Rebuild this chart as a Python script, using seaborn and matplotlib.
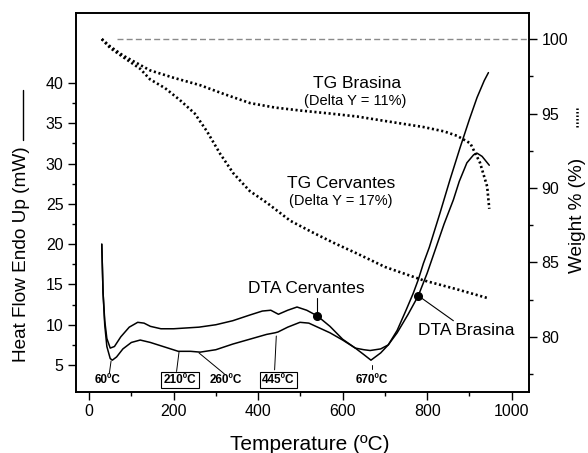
import numpy as np
import pandas as pd
import matplotlib
matplotlib.use("Agg")
import matplotlib.pyplot as plt
from matplotlib.lines import Line2D
import seaborn as sns

# ---------------- data ----------------
dta_cerv_x = [30, 33, 37, 42, 50, 60, 75, 95, 115, 130, 145, 170, 200, 230, 260, 300, 340,
              380, 410, 430, 448, 470, 492, 515, 540, 570, 600, 630, 650, 667, 690, 708, 729,
              750, 767, 779, 791, 805, 830, 854, 878, 900, 918, 935, 945]
dta_cerv_y = [20.0, 14.0, 10.5, 8.3, 7.1, 7.3, 8.5, 9.7, 10.3, 10.2, 9.8, 9.5, 9.5, 9.6, 9.7, 10.0, 10.5,
              11.2, 11.7, 11.8, 11.3, 11.8, 12.2, 11.8, 11.1, 9.8, 8.2, 7.1, 6.3, 5.6, 6.5, 7.5, 9.3,
              11.8, 13.9, 15.6, 17.6, 19.6, 23.8, 28.0, 32.0, 35.5, 38.2, 40.3, 41.3]

dta_bras_x = [30, 33, 37, 42, 50, 55, 65, 80, 100, 121, 145, 175, 211, 240, 263, 300, 340, 380,
              420, 440, 447, 470, 499, 520, 545, 570, 600, 630, 650, 665, 690, 708, 729, 755,
              779, 800, 821, 840, 862, 876, 894, 910, 918, 930, 947]
dta_bras_y = [20.0, 14.0, 10.0, 7.3, 5.8, 5.6, 6.0, 7.0, 7.8, 8.1, 7.8, 7.3, 6.7, 6.7, 6.6, 6.9, 7.6, 8.2,
              8.8, 9.0, 9.1, 9.7, 10.3, 10.2, 9.6, 9.0, 8.1, 7.1, 6.9, 6.8, 7.0, 7.5, 9.0, 11.3,
              13.6, 16.4, 19.6, 22.5, 25.5, 27.8, 30.1, 31.1, 31.3, 30.9, 29.8]

tg_bras_x = [30, 50, 80, 144, 200, 263, 320, 381, 440, 500, 570, 634, 700, 790, 840, 871, 902,
             925, 942, 947]
tg_bras_y = [100.0, 99.5, 98.9, 97.9, 97.4, 96.9, 96.3, 95.7, 95.4, 95.2, 95.0, 94.8, 94.5, 94.1,
             93.8, 93.5, 93.0, 91.7, 90.1, 88.6]

tg_cerv_x = [30, 50, 80, 121, 144, 180, 215, 250, 279, 310, 341, 380, 421, 476, 530, 580, 634,
             700, 791, 870, 944]
tg_cerv_y = [100.0, 99.4, 98.8, 98.0, 97.3, 96.7, 95.9, 95.0, 93.8, 92.3, 91.0, 89.8, 89.0, 87.8,
             87.0, 86.3, 85.6, 84.7, 83.8, 83.2, 82.6]

ref_x = [65, 1041]
ref_y = [100, 100]

x_ticks = [0, 200, 400, 600, 800, 1000]
left_ticks = [5, 10, 15, 20, 25, 30, 35, 40]
right_ticks = [80, 85, 90, 95, 100]

peak_labels = ["60ºC", "210ºC", "260ºC", "445ºC", "670ºC"]
peak_label_x = [43.8, 215, 323, 448.5, 670]
peak_boxed = [False, True, False, True, False]

marker_x = [540, 779]
marker_y = [11.1, 13.6]

# ---------------- style ----------------
sns.set_theme(style="ticks")
plt.rcParams["font.family"] = ["Liberation Sans", "DejaVu Sans"]
plt.rcParams["text.color"] = "black"
plt.rcParams["axes.labelcolor"] = "black"
plt.rcParams["xtick.color"] = "black"
plt.rcParams["ytick.color"] = "black"
plt.rcParams["axes.edgecolor"] = "black"

W, H = 588, 453
fig = plt.figure(figsize=(W / 100, H / 100), dpi=100)
ax = fig.add_axes([76 / W, 1 - 392 / H, (529 - 76) / W, (392 - 13) / H])
ax2 = ax.twinx()

df_c = pd.DataFrame({"T": dta_cerv_x, "v": dta_cerv_y})
df_b = pd.DataFrame({"T": dta_bras_x, "v": dta_bras_y})
df_tb = pd.DataFrame({"T": tg_bras_x, "v": tg_bras_y})
df_tc = pd.DataFrame({"T": tg_cerv_x, "v": tg_cerv_y})
df_r = pd.DataFrame({"T": ref_x, "v": ref_y})

sns.lineplot(data=df_c, x="T", y="v", ax=ax, color="black", lw=1.1, estimator=None)
sns.lineplot(data=df_b, x="T", y="v", ax=ax, color="black", lw=1.1, estimator=None)
ax.plot(marker_x, marker_y, "o", color="black", ms=5.5, zorder=5)

dot = (0, (0.8, 1.0))
sns.lineplot(data=df_tb, x="T", y="v", ax=ax2, color="black", lw=1.9, linestyle=dot, estimator=None)
sns.lineplot(data=df_tc, x="T", y="v", ax=ax2, color="black", lw=1.9, linestyle=dot, estimator=None)
sns.lineplot(data=df_r, x="T", y="v", ax=ax2, color="#8a8a8a", lw=1.0, linestyle=(0, (4.3, 2.3)),
             estimator=None)

ax.set_xlim(-31, 1041)
ax.set_ylim(1.65, 48.7)
ax2.set_ylim(76.3, 101.75)

ax.set_xticks(x_ticks)
ax.set_xticks([100, 300, 500, 700, 900], minor=True)
ax.set_yticks(left_ticks)
ax.set_yticks([7.5, 12.5, 17.5, 22.5, 27.5, 32.5, 37.5], minor=True)
ax2.set_yticks(right_ticks)
ax2.set_yticks([77.5, 82.5, 87.5, 92.5, 97.5], minor=True)

for a in (ax, ax2):
    a.set_xlabel("")
    a.set_ylabel("")
    a.tick_params(which="major", length=6, width=1.0, direction="out", labelsize=11.5, pad=3,
                  colors="black", labelcolor="black")
    a.tick_params(which="minor", length=3, width=1.0, direction="out", colors="black")
    for s in a.spines.values():
        s.set_visible(True)
        s.set_linewidth(1.2)
        s.set_color("black")
ax.tick_params(axis="both", which="both", top=False, right=False)
ax2.tick_params(axis="y", which="both", left=False, right=True)

# ---------------- texts ----------------
ax.text(635, 39.4, "TG Brasina", ha="center", va="baseline", fontsize=12.5, color="black")
ax.text(630, 37.3, "(Delta Y = 11%)", ha="center", va="baseline", fontsize=10.5, color="black")
ax.text(596, 27.0, "TG Cervantes", ha="center", va="baseline", fontsize=12.5, color="black")
ax.text(596, 24.85, "(Delta Y = 17%)", ha="center", va="baseline", fontsize=10.5, color="black")
ax.text(515, 13.9, "DTA Cervantes", ha="center", va="baseline", fontsize=12.5, color="black")
ax.text(893.5, 8.7, "DTA Brasina", ha="center", va="baseline", fontsize=12.5, color="black")

ax.plot([540, 540], [13.3, 11.1], color="black", lw=0.8)
ax.plot([779, 862], [13.6, 10.5], color="black", lw=0.8)

for lab, lx, boxed in zip(peak_labels, peak_label_x, peak_boxed):
    kw = {}
    if boxed:
        kw["bbox"] = dict(boxstyle="square,pad=0.2", fc="white", ec="black", lw=0.8)
    ax.text(lx, 2.77, lab, ha="center", va="baseline", fontsize=8.5, fontweight="bold",
            color="black", **kw)

ax.plot([52, 48], [5.5, 4.0], color="black", lw=0.7)
ax.plot([213, 207], [6.7, 4.2], color="black", lw=0.7)
ax.plot([260, 320], [6.5, 3.9], color="black", lw=0.7)
ax.plot([443, 439], [8.6, 4.4], color="black", lw=0.7)
ax.plot([670, 670], [5.0, 4.5], color="black", lw=0.7)

# axis labels
fig.text(310 / W, 1 - 450 / H, "Temperature (ºC)", ha="center", va="baseline", fontsize=15,
         color="black")
fig.text(22 / W, 1 - 254 / H, "Heat Flow Endo Up (mW)", ha="center", va="center",
         rotation=90, fontsize=13.7, color="black")
fig.add_artist(Line2D([23 / W, 23 / W], [1 - 140 / H, 1 - 90 / H], transform=fig.transFigure,
                      color="black", lw=1.0))
fig.text(577 / W, 1 - 215 / H, "Weight % (%)", ha="center", va="center", rotation=90,
         fontsize=13.7, color="black")
fig.add_artist(Line2D([577 / W, 577 / W], [1 - 127 / H, 1 - 106 / H], transform=fig.transFigure,
                      color="black", lw=1.8, linestyle=(0, (0.6, 0.8))))

fig.savefig("out.png", dpi=100)
